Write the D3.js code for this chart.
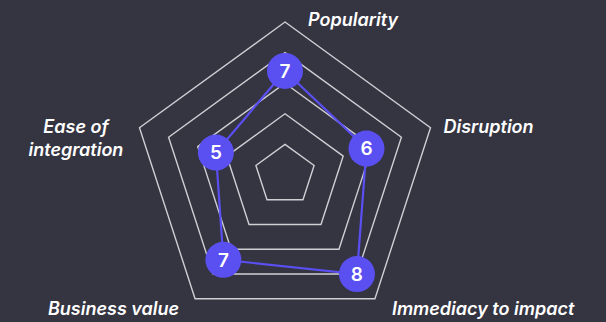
<!DOCTYPE html>
<html>
<head>
<meta charset="utf-8">
<script src="https://cdn.jsdelivr.net/npm/d3@7"></script>
<style>
  html, body { margin: 0; padding: 0; background: #353441; }
  svg { display: block; }
  text { font-family: Inter, "Noto Sans", sans-serif; }
</style>
</head>
<body>
<div id="radar"></div>
<script>
// data
const axes = ["Popularity", "Disruption", "Immediacy to impact", "Business value", "Ease of integration"];
const scores = [6.8, 5.6, 8.0, 6.85, 4.75];
const levels = [2, 4, 6, 8, 10];

function crtajRadar() {
    var width = 606;
    var height = 322;
    var cx = 285, cy = 175;
    var R = 153;

    var svg = d3.select("#radar")
        .append("svg")
        .attr("width", width)
        .attr("height", height);

    svg.append("rect")
        .attr("width", width)
        .attr("height", height)
        .attr("fill", "#353441");

    var r = d3.scaleLinear().domain([0, 10]).range([0, R]);
    var angle = d3.scaleLinear().domain([0, axes.length]).range([0, 2 * Math.PI]);

    function point(i, v) {
        var a = angle(i);
        return [cx + r(v) * Math.sin(a), cy - r(v) * Math.cos(a)];
    }

    var g = svg.append("g");

    // rings
    g.selectAll("polygon.ring")
        .data(levels)
        .enter()
        .append("polygon")
        .attr("class", "ring")
        .attr("points", lv => axes.map((a, i) => point(i, lv).join(",")).join(" "))
        .attr("fill", "none")
        .attr("stroke", "#cfcfd4")
        .attr("stroke-width", 1.4);

    // data line
    var line = d3.line().curve(d3.curveLinearClosed);
    g.append("path")
        .attr("d", line(scores.map((v, i) => point(i, v))))
        .attr("fill", "none")
        .attr("stroke", "#5a4ff0")
        .attr("stroke-width", 2.2);

    // points
    var pts = g.selectAll("g.pt")
        .data(scores)
        .enter()
        .append("g")
        .attr("class", "pt")
        .attr("transform", (v, i) => "translate(" + point(i, v) + ")");

    pts.append("circle")
        .attr("r", 18)
        .attr("fill", "#5a4ff0");

    pts.append("text")
        .attr("text-anchor", "middle")
        .attr("dy", "0.36em")
        .style("font-size", "19px")
        .style("font-weight", 600)
        .attr("fill", "white")
        .text(v => Math.round(v));

    // axis labels, nudged off each outer vertex
    var nudge = [
        { dx: 23, dy: 4, anchor: "start" },
        { dx: 13, dy: 5, anchor: "start" },
        { dx: 17, dy: 16, anchor: "start" },
        { dx: -16, dy: 16, anchor: "end" },
        { dx: -63.5, dy: 5, anchor: "middle" }
    ];

    axes.forEach(function(name, i) {
        var p = point(i, 10);
        var n = nudge[i];
        var t = svg.append("text")
            .attr("x", p[0] + n.dx)
            .attr("y", p[1] + n.dy)
            .attr("text-anchor", n.anchor)
            .attr("fill", "white")
            .style("font-size", "18px")
            .style("font-style", "italic")
            .style("font-weight", 600);
        if (name == "Ease of integration") {
            t.append("tspan").attr("x", p[0] + n.dx).text("Ease of");
            t.append("tspan").attr("x", p[0] + n.dx).attr("dy", "1.29em").text("integration");
        } else {
            t.text(name);
        }
    });
}
crtajRadar();
</script>
</body>
</html>
